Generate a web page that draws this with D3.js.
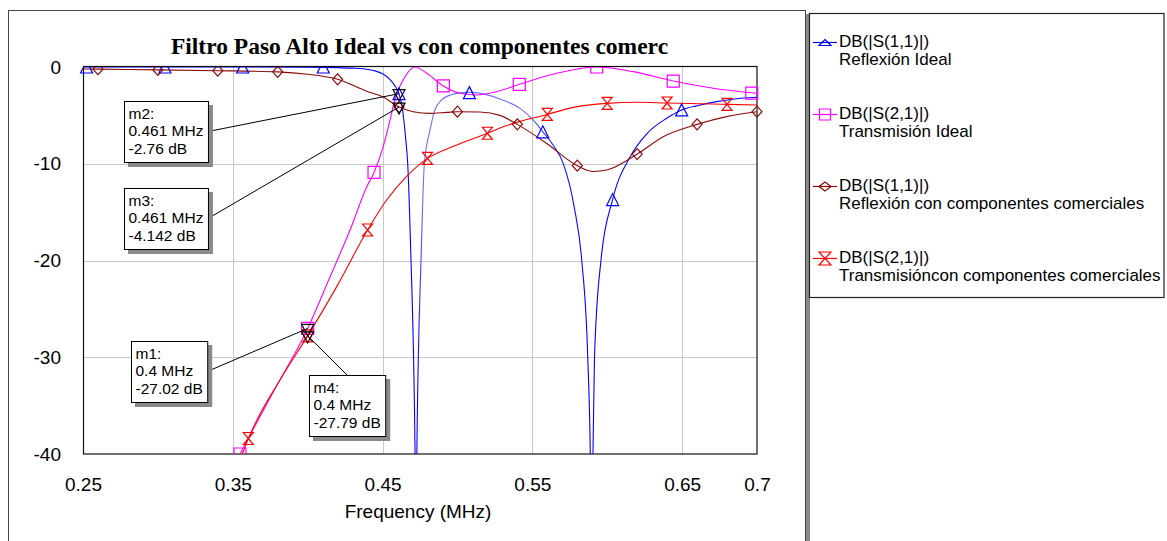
<!DOCTYPE html>
<html>
<head>
<meta charset="utf-8">
<script src="https://cdn.jsdelivr.net/npm/d3@7/dist/d3.min.js"></script>
<style>
  html, body { margin: 0; padding: 0; background: #fff; }
  svg { display: block; }
</style>
</head>
<body>
<svg id="chart" width="1167" height="541"></svg>
<script>
// ---- Sweep data: frequency (MHz) and magnitude (dB) ----
const s11IdealFreq = [0.25, 0.30, 0.35, 0.40, 0.42, 0.43, 0.44, 0.445, 0.45, 0.455, 0.458, 0.461, 0.4635, 0.4655, 0.4668, 0.469, 0.4707, 0.4717, 0.4723, 0.4729, 0.4739, 0.4757, 0.4779, 0.4817, 0.485, 0.4895, 0.496, 0.503, 0.510, 0.518, 0.53, 0.542, 0.55, 0.557, 0.564, 0.5707, 0.578, 0.583, 0.587, 0.5887, 0.5896, 0.5905, 0.5915, 0.5958, 0.6036, 0.6152, 0.6264, 0.6397, 0.6497, 0.66, 0.673, 0.685, 0.70];
const s11IdealDb   = [0, 0, 0, -0.02, -0.06, -0.12, -0.25, -0.4, -0.7, -1.3, -1.9, -2.76, -4.6, -7.5, -10, -20, -30, -40, -52, -40, -30, -20, -10, -6.5, -4.4, -3.4, -2.85, -2.65, -2.62, -2.8, -3.4, -4.3, -5.4, -6.7, -8.1, -10, -14.5, -20, -30, -40, -52, -40, -30, -20, -13.7, -9.3, -6.9, -5.3, -4.44, -4.0, -3.58, -3.3, -3.13];

const s21IdealFreq = [0.348, 0.3548, 0.377, 0.40, 0.4149, 0.4283, 0.4394, 0.4443, 0.4505, 0.4545, 0.4575, 0.461, 0.465, 0.4717, 0.4795, 0.4906, 0.5017, 0.5128, 0.5262, 0.5413, 0.5663, 0.593, 0.6174, 0.6441, 0.6708, 0.70];
const s21IdealDb   = [-42, -40, -33.6, -27.02, -21.7, -16.85, -12.4, -10.9, -8.2, -5.8, -3.8, -2.2, -1.0, 0, -0.65, -1.96, -2.72, -2.9, -2.55, -1.79, -0.65, 0, -0.48, -1.45, -2.2, -2.72];

const s11CommFreq = [0.25, 0.26, 0.30, 0.34, 0.38, 0.40, 0.42, 0.4394, 0.4505, 0.461, 0.4705, 0.4817, 0.4928, 0.50, 0.515, 0.5284, 0.54, 0.5596, 0.58, 0.5907, 0.5996, 0.62, 0.6374, 0.66, 0.6797, 0.70];
const s11CommDb   = [-0.2, -0.22, -0.3, -0.38, -0.5, -0.75, -1.27, -2.5, -3.1, -4.142, -4.62, -4.79, -4.69, -4.62, -4.65, -5.0, -5.93, -7.9, -10.2, -10.8, -10.65, -9.0, -7.2, -5.93, -5.13, -4.62];

const s21CommFreq = [0.352, 0.3566, 0.3604, 0.3815, 0.40, 0.4194, 0.44, 0.4527, 0.4661, 0.48, 0.4973, 0.52, 0.5284, 0.56, 0.5774, 0.60, 0.62, 0.64, 0.68, 0.70];
const s21CommDb   = [-41.5, -39.9, -38.4, -32.35, -27.79, -22.7, -16.85, -13.75, -11.3, -9.44, -8.2, -6.85, -6.3, -4.9, -4.17, -3.76, -3.65, -3.72, -3.86, -3.93];

// ---- Symbol points placed along each trace ----
const s11IdealSymFreq = [0.2524, 0.3047, 0.3566, 0.4104, 0.461, 0.508, 0.557, 0.6036, 0.6497];
const s11IdealSymDb   = [0, 0, 0, 0, -2.76, -2.65, -6.7, -13.7, -4.44];
const s21IdealSymFreq = [0.3548, 0.40, 0.4443, 0.4906, 0.5413, 0.593, 0.6441, 0.6965];
const s21IdealSymDb   = [-40, -27.02, -10.9, -1.96, -1.79, 0, -1.45, -2.7];
const s11CommSymFreq  = [0.26, 0.30, 0.34, 0.38, 0.42, 0.461, 0.50, 0.54, 0.58, 0.62, 0.66, 0.70];
const s11CommSymDb    = [-0.22, -0.3, -0.38, -0.5, -1.27, -4.142, -4.62, -5.93, -10.2, -9.0, -5.93, -4.62];
const s21CommSymFreq  = [0.3604, 0.40, 0.44, 0.48, 0.52, 0.56, 0.60, 0.64, 0.68];
const s21CommSymDb    = [-38.4, -27.79, -16.85, -9.44, -6.85, -4.9, -3.76, -3.72, -3.86];

// ---- Markers ----
const markerNames = ["m1", "m2", "m3", "m4"];
const markerFreq  = [0.4, 0.461, 0.461, 0.4];
const markerDb    = [-27.02, -2.76, -4.142, -27.79];

// ---- Axis ticks and labels ----
const xTickValues = [0.25, 0.35, 0.45, 0.55, 0.65, 0.7];
const xTickLabels = ["0.25", "0.35", "0.45", "0.55", "0.65", "0.7"];
const yTickValues = [0, -10, -20, -30, -40];
const yTickLabels = ["0", "-10", "-20", "-30", "-40"];
const xGrid = [0.35, 0.45, 0.55, 0.65];
const yGrid = [-10, -20, -30];

const legendTitles = ["DB(|S(1,1)|)", "DB(|S(2,1)|)", "DB(|S(1,1)|)", "DB(|S(2,1)|)"];
const legendNames  = ["Reflexión Ideal", "Transmisión Ideal", "Reflexión con componentes comerciales", "Transmisióncon componentes comerciales"];

// ---- Layout ----
const SANS = "'Liberation Sans', Arial, sans-serif";
const svg = d3.select("#chart");
const plot = { left: 83, right: 757, top: 67, bottom: 454 };
const x = d3.scaleLinear().domain([0.25, 0.7]).range([plot.left, plot.right]);
const y = d3.scaleLinear().domain([-40, 0]).range([plot.bottom, plot.top]);

const traces = [
  { freq: s11IdealFreq, db: s11IdealDb, sf: s11IdealSymFreq, sd: s11IdealSymDb, color: "#0000ff", sym: "tri", stroke: "url(#s11Shade)" },
  { freq: s21IdealFreq, db: s21IdealDb, sf: s21IdealSymFreq, sd: s21IdealSymDb, color: "#ff00ff", sym: "square" },
  { freq: s11CommFreq,  db: s11CommDb,  sf: s11CommSymFreq,  sd: s11CommSymDb,  color: "#8b0a0a", sym: "diamond" },
  { freq: s21CommFreq,  db: s21CommDb,  sf: s21CommSymFreq,  sd: s21CommSymDb,  color: "#ff0000", sym: "bowtie" }
];

const symPaths = {
  tri: "M0,-6L6,6L-6,6Z",
  square: "M-6,-6H6V6H-6Z",
  diamond: "M0,-5.5L5,0L0,5.5L-5,0Z",
  bowtie: "M-5,-6H5L-5,6H5Z",
  marker: "M-6,-4H6L0,7Z"
};
const legendSymPaths = {
  tri: "M0,-3L6,3L-6,3Z",
  square: "M-5.5,-5.5H5.5V5.5H-5.5Z",
  diamond: "M0,-4.5L6,0L0,4.5L-6,0Z",
  bowtie: "M-6,-6.5H6L-6,6.5H6Z"
};

// Outer frame with shadow
svg.append("rect").attr("x", 806).attr("y", 14).attr("width", 4).attr("height", 540).attr("fill", "#8a8a8a");
svg.append("rect").attr("x", 8.5).attr("y", 10.5).attr("width", 797).attr("height", 545)
  .attr("fill", "#fff").attr("stroke", "#444").attr("stroke-width", 1);

// Title
svg.append("text").attr("x", 419.5).attr("y", 54).attr("text-anchor", "middle")
  .attr("font-family", "'Liberation Serif', 'Times New Roman', serif").attr("font-weight", "bold")
  .attr("font-size", 23.5).text("Filtro Paso Alto Ideal vs con componentes comerc");

// Clip paths and the softer tint of the S11 arc between its two nulls
const defs = svg.append("defs");
defs.append("clipPath").attr("id", "clipPlot").append("rect")
  .attr("x", plot.left).attr("y", plot.top).attr("width", plot.right - plot.left).attr("height", plot.bottom - plot.top);
defs.append("clipPath").attr("id", "clipSym").append("rect")
  .attr("x", plot.left - 8).attr("y", plot.top).attr("width", plot.right - plot.left + 16).attr("height", plot.bottom - plot.top);
const shade = defs.append("linearGradient").attr("id", "s11Shade").attr("gradientUnits", "userSpaceOnUse")
  .attr("x1", x(0.25)).attr("x2", x(0.7)).attr("y1", 0).attr("y2", 0);
const shadeStops = [[0.25, "#0000ff"], [0.4735, "#0000ff"], [0.477, "#6e6eff"], [0.545, "#6e6eff"], [0.56, "#3030ff"], [0.585, "#0000ff"], [0.7, "#0000ff"]];
shadeStops.forEach(([f, c]) => shade.append("stop")
  .attr("offset", (x(f) - x(0.25)) / (x(0.7) - x(0.25))).attr("stop-color", c));

// Grid
const grid = svg.append("g").attr("stroke", "#c8c8c8").attr("stroke-width", 1);
grid.selectAll(".gx").data(xGrid).join("line")
  .attr("x1", d => Math.round(x(d)) + 0.5).attr("x2", d => Math.round(x(d)) + 0.5)
  .attr("y1", plot.top).attr("y2", plot.bottom);
grid.selectAll(".gy").data(yGrid).join("line")
  .attr("y1", d => Math.round(y(d)) + 0.5).attr("y2", d => Math.round(y(d)) + 0.5)
  .attr("x1", plot.left).attr("x2", plot.right);

// Axes
const yAxis = d3.axisLeft(y).tickValues(yTickValues).tickSize(0).tickPadding(22)
  .tickFormat((d, i) => yTickLabels[i]);
const gy = svg.append("g").attr("transform", `translate(${plot.left},0)`).call(yAxis);
gy.select(".domain").remove();
gy.selectAll("text").attr("font-size", 19).attr("fill", "#000").attr("font-family", SANS);

const xAxis = d3.axisBottom(x).tickValues(xTickValues).tickSize(0).tickPadding(24)
  .tickFormat((d, i) => xTickLabels[i]);
const gx = svg.append("g").attr("transform", `translate(0,${plot.bottom})`).call(xAxis);
gx.select(".domain").remove();
gx.selectAll("text").attr("font-size", 19).attr("fill", "#000").attr("font-family", SANS);

svg.append("text").attr("x", 418).attr("y", 518).attr("text-anchor", "middle")
  .attr("font-family", SANS).attr("font-size", 19).text("Frequency (MHz)");

// Plot frame
svg.append("rect").attr("x", plot.left + 0.5).attr("y", plot.top - 0.5)
  .attr("width", plot.right - plot.left - 0.5).attr("height", plot.bottom - plot.top + 0.5)
  .attr("fill", "none").attr("stroke", "#111").attr("stroke-width", 1.2);

// Traces
const line = d3.line().x(d => x(d[0])).y(d => y(d[1])).curve(d3.curveMonotoneX);
const tracesG = svg.append("g").attr("clip-path", "url(#clipPlot)");
traces.forEach(t => {
  const pts = t.freq.map((f, i) => [f, t.db[i]]);
  tracesG.append("path").datum(pts).attr("d", line)
    .attr("fill", "none").attr("stroke", t.stroke || t.color).attr("stroke-width", 1.1);
});

const symG = svg.append("g").attr("clip-path", "url(#clipSym)");
traces.forEach(t => {
  const pts = t.sf.map((f, i) => [f, t.sd[i]]);
  symG.selectAll(null).data(pts).join("path")
    .attr("transform", d => `translate(${x(d[0])},${y(d[1])})`)
    .attr("d", symPaths[t.sym]).attr("fill", "none").attr("stroke", t.color).attr("stroke-width", 1.2);
});

// Marker readouts
const markerBoxes = [
  { left: 131, top: 341, anchor: "right" },
  { left: 124, top: 101, anchor: "right" },
  { left: 124, top: 188, anchor: "right" },
  { left: 309, top: 375, anchor: "top" }
];
const markerG = svg.append("g");
markerNames.forEach((name, i) => {
  const b = markerBoxes[i];
  const lines = [name + ":", markerFreq[i] + " MHz", markerDb[i] + " dB"];
  const g = markerG.append("g");
  const shadow = g.append("rect").attr("fill", "#8a8a8a");
  const box = g.append("rect").attr("fill", "#fff").attr("stroke", "#000").attr("stroke-width", 1);
  const txt = g.append("text").attr("font-family", SANS).attr("font-size", 15.5);
  lines.forEach((s, k) => txt.append("tspan").attr("x", b.left + 4.5).attr("y", b.top + 17.5 + k * 17.7).text(s));
  const w = txt.node().getBBox().width + 9;
  const h = 61;
  box.attr("x", b.left + 0.5).attr("y", b.top + 0.5).attr("width", w).attr("height", h);
  shadow.attr("x", b.left + 4).attr("y", b.top + 4).attr("width", w + 1).attr("height", h + 1);
  let ax, ay;
  if (b.anchor === "right") { ax = b.left + w; ay = b.top + h / 2; }
  else { ax = b.left + w / 2; ay = b.top; }
  markerG.insert("line", ":first-child")
    .attr("x1", ax).attr("y1", ay).attr("x2", x(markerFreq[i])).attr("y2", y(markerDb[i]))
    .attr("stroke", "#000").attr("stroke-width", 1);
});
markerG.selectAll(".mk").data(markerFreq.map((f, i) => [f, markerDb[i]])).join("path")
  .attr("transform", d => `translate(${x(d[0])},${y(d[1])})`)
  .attr("d", symPaths.marker).attr("fill", "none").attr("stroke", "#000").attr("stroke-width", 1.2);

// Legend
svg.append("rect").attr("x", 809.5).attr("y", 13.5).attr("width", 354.5).attr("height", 284)
  .attr("fill", "#fff").attr("stroke", "#222").attr("stroke-width", 1.2);
const leg = svg.append("g").attr("font-family", SANS).attr("font-size", 17);
traces.forEach((t, i) => {
  const ly = 42.5 + i * 72;
  leg.append("line").attr("x1", 813).attr("x2", 837).attr("y1", ly).attr("y2", ly)
    .attr("stroke", t.color).attr("stroke-width", 1.2);
  leg.append("path").attr("transform", `translate(825,${ly})`).attr("d", legendSymPaths[t.sym])
    .attr("fill", "none").attr("stroke", t.color).attr("stroke-width", 1.2);
  leg.append("text").attr("x", 839).attr("y", ly + 4.5).text(legendTitles[i]);
  leg.append("text").attr("x", 839).attr("y", ly + 22).text(legendNames[i]);
});
</script>
</body>
</html>
